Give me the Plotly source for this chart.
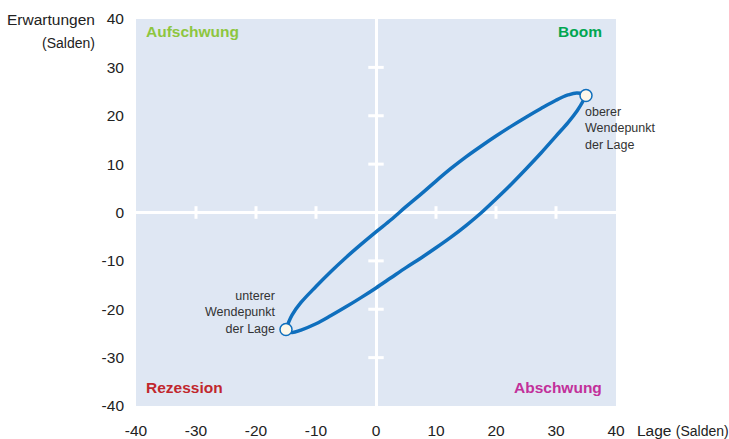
import plotly.graph_objects as go

# Data
upper_x = [-15, -14.6, -14.0, -12.5, -10, -7.5, -5, -2.5, 0, 2.5, 5, 7.5, 10, 12.5, 15, 17.5,
           20, 22.5, 25, 27.5, 30, 32, 33.5, 35]
upper_y = [-24.2, -22.8, -21.2, -18.6, -15.3, -12.2, -9.3, -6.6, -4.0, -1.5, 1.2, 3.8, 6.5, 9.1,
           11.5, 13.7, 15.8, 17.8, 19.7, 21.5, 23.2, 24.3, 24.7, 24.2]
lower_x = [35, 34.5, 33.5, 32, 30, 27.5, 25, 22.5, 20, 17.5, 15, 12.5, 10, 7.5, 5, 2.5, 0,
           -2.5, -5, -7.5, -10, -12.5, -14, -15]
lower_y = [24.2, 23.0, 21.0, 18.6, 15.8, 12.3, 9.0, 5.8, 2.8, -0.1, -2.7, -5.1, -7.3, -9.4,
           -11.4, -13.5, -15.6, -17.6, -19.5, -21.3, -23.0, -24.3, -24.8, -24.2]
turn_x = [35, -15]
turn_y = [24.2, -24.2]
ticks = [-40, -30, -20, -10, 0, 10, 20, 30, 40]
tick_text = ["-40", "-30", "-20", "-10", "0", "10", "20", "30", "40"]
inner_ticks = [-30, -20, -10, 10, 20, 30]

blue = "#0f6fbd"
font = "Liberation Sans, Arial, sans-serif"

fig = go.Figure()
# white tick marks on the zero lines
fig.add_trace(go.Scatter(x=inner_ticks, y=[0]*len(inner_ticks), mode="markers",
                         marker=dict(symbol="line-ns", size=9, line=dict(color="white", width=3)),
                         hoverinfo="skip", showlegend=False))
fig.add_trace(go.Scatter(x=[0]*len(inner_ticks), y=inner_ticks, mode="markers",
                         marker=dict(symbol="line-ew", size=11, line=dict(color="white", width=3)),
                         hoverinfo="skip", showlegend=False))
fig.add_trace(go.Scatter(x=upper_x + lower_x[1:], y=upper_y + lower_y[1:], mode="lines",
                         line=dict(color=blue, width=3.5, shape="spline", smoothing=1.0),
                         showlegend=False))
fig.add_trace(go.Scatter(x=turn_x, y=turn_y, mode="markers",
                         marker=dict(size=12, color="#fdf8ea", line=dict(color=blue, width=1.5)),
                         showlegend=False))

axis_common = dict(range=[-40, 40], tickvals=ticks, ticktext=tick_text, showgrid=False,
                   zeroline=True, zerolinecolor="white", zerolinewidth=3, showline=False,
                   ticks="", automargin=False,
                   tickfont=dict(family=font, size=15.5, color="#222"))
fig.update_xaxes(**axis_common, ticklabelstandoff=13)
fig.update_yaxes(**axis_common, ticklabelstandoff=11)

ann = []
quad = [("Aufschwung", "#8dc63f", 0, 1, "left", "top", 8, -2),
        ("Boom", "#00a650", 1, 1, "right", "top", -12, -2),
        ("Rezession", "#c1272d", 0, 0, "left", "bottom", 8, 8),
        ("Abschwung", "#c2309a", 1, 0, "right", "bottom", -12, 8)]
for t, c, x, y, xa, ya, xs, ys in quad:
    ann.append(dict(text="<b>" + t + "</b>", x=x, y=y, xref="paper", yref="paper",
                    xanchor=xa, yanchor=ya, xshift=xs, yshift=ys, showarrow=False,
                    font=dict(family=font, size=15.5, color=c)))
ann.append(dict(text="oberer<br>Wendepunkt<br>der Lage", x=35, y=24.2, xref="x", yref="y",
                xanchor="left", yanchor="top", align="left", xshift=-3, yshift=-8,
                showarrow=False, font=dict(family=font, size=12.5, color="#333")))
ann.append(dict(text="unterer<br>Wendepunkt<br>der Lage", x=-15, y=-24.2, xref="x", yref="y",
                xanchor="right", yanchor="bottom", align="right", xshift=-9, yshift=-8,
                showarrow=False, font=dict(family=font, size=12.5, color="#333")))
ann.append(dict(text="Erwartungen", x=0, y=1, xref="paper", yref="paper", xanchor="right",
                yanchor="middle", xshift=-39, yshift=0, showarrow=False,
                font=dict(family=font, size=15.5, color="#222")))
ann.append(dict(text="(Salden)", x=0, y=1, xref="paper", yref="paper", xanchor="right",
                yanchor="middle", xshift=-39, yshift=-24, showarrow=False,
                font=dict(family=font, size=14, color="#222")))
ann.append(dict(text="Lage <span style='font-size:14px'>(Salden)</span>", x=1, y=0,
                xref="paper", yref="paper", xanchor="left", yanchor="middle", xshift=19,
                yshift=-24, showarrow=False, font=dict(family=font, size=15.5, color="#222")))

fig.update_layout(width=729, height=439, margin=dict(l=136, r=113, t=19, b=33),
                  plot_bgcolor="#dfe7f3", paper_bgcolor="white", annotations=ann,
                  showlegend=False)
fig.write_html("out.html", post_script="document.body.style.margin='0';",
               config={"displayModeBar": False})
